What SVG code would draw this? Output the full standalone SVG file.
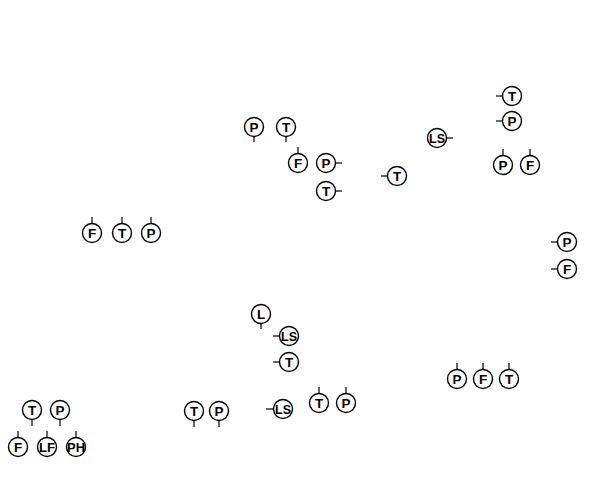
<svg xmlns="http://www.w3.org/2000/svg" width="596" height="495" viewBox="0 0 596 495">
<style>
circle{fill:#fff;stroke:#000;stroke-width:1.4}
line{stroke:#000;stroke-width:1.2}
text{font-family:"Liberation Sans",Arial,sans-serif;font-size:13.5px;font-weight:bold;text-anchor:middle;fill:#000}
text.w{font-size:12.5px}
</style>
<rect width="596" height="495" fill="#fff"/>
<g id="connectors"></g>
<g id="n1"><line x1="254" y1="136.5" x2="254" y2="142"/><circle cx="254" cy="127" r="9.5"/><text x="254" y="131.8">P</text></g>
<g id="n2"><line x1="286" y1="136.5" x2="286" y2="142"/><circle cx="286" cy="127" r="9.5"/><text x="286" y="131.8">T</text></g>
<g id="n3"><line x1="298" y1="147" x2="298" y2="153.5"/><circle cx="298" cy="163" r="9.5"/><text x="298" y="167.8">F</text></g>
<g id="n4"><line x1="335.5" y1="163" x2="342" y2="163"/><circle cx="326" cy="163" r="9.5"/><text x="326" y="167.8">P</text></g>
<g id="n5"><line x1="335.5" y1="191" x2="342" y2="191"/><circle cx="326" cy="191" r="9.5"/><text x="326" y="195.8">T</text></g>
<g id="n6"><line x1="381" y1="176" x2="387.5" y2="176"/><circle cx="397" cy="176" r="9.5"/><text x="397" y="180.8">T</text></g>
<g id="n7"><line x1="446.5" y1="138" x2="453" y2="138"/><circle cx="437" cy="138" r="9.5"/><text class="w" x="437" y="142.5" textLength="16" lengthAdjust="spacingAndGlyphs">LS</text></g>
<g id="n8"><line x1="496" y1="96" x2="502.5" y2="96"/><circle cx="512" cy="96" r="9.5"/><text x="512" y="100.8">T</text></g>
<g id="n9"><line x1="496" y1="121" x2="502.5" y2="121"/><circle cx="512" cy="121" r="9.5"/><text x="512" y="125.8">P</text></g>
<g id="n10"><line x1="503" y1="149" x2="503" y2="155.5"/><circle cx="503" cy="165" r="9.5"/><text x="503" y="169.8">P</text></g>
<g id="n11"><line x1="530" y1="149" x2="530" y2="155.5"/><circle cx="530" cy="165" r="9.5"/><text x="530" y="169.8">F</text></g>
<g id="n12"><line x1="92" y1="217" x2="92" y2="223.5"/><circle cx="92" cy="233" r="9.5"/><text x="92" y="237.8">F</text></g>
<g id="n13"><line x1="122" y1="217" x2="122" y2="223.5"/><circle cx="122" cy="233" r="9.5"/><text x="122" y="237.8">T</text></g>
<g id="n14"><line x1="151" y1="217" x2="151" y2="223.5"/><circle cx="151" cy="233" r="9.5"/><text x="151" y="237.8">P</text></g>
<g id="n15"><line x1="551" y1="242" x2="557.5" y2="242"/><circle cx="567" cy="242" r="9.5"/><text x="567" y="246.8">P</text></g>
<g id="n16"><line x1="551" y1="269" x2="557.5" y2="269"/><circle cx="567" cy="269" r="9.5"/><text x="567" y="273.8">F</text></g>
<g id="n17"><line x1="261" y1="323.5" x2="261" y2="329"/><circle cx="261" cy="314" r="9.5"/><text x="261" y="318.8">L</text></g>
<g id="n18"><line x1="273" y1="336" x2="279.5" y2="336"/><circle cx="289" cy="336" r="9.5"/><text class="w" x="289" y="340.5" textLength="16" lengthAdjust="spacingAndGlyphs">LS</text></g>
<g id="n19"><line x1="273" y1="362" x2="279.5" y2="362"/><circle cx="289" cy="362" r="9.5"/><text x="289" y="366.8">T</text></g>
<g id="n20"><line x1="266" y1="409" x2="273.5" y2="409"/><circle cx="283" cy="409" r="9.5"/><text class="w" x="283" y="413.5" textLength="16" lengthAdjust="spacingAndGlyphs">LS</text></g>
<g id="n21"><line x1="319" y1="387" x2="319" y2="393.5"/><circle cx="319" cy="403" r="9.5"/><text x="319" y="407.8">T</text></g>
<g id="n22"><line x1="346" y1="387" x2="346" y2="393.5"/><circle cx="346" cy="403" r="9.5"/><text x="346" y="407.8">P</text></g>
<g id="n23"><line x1="457" y1="363" x2="457" y2="369.5"/><circle cx="457" cy="379" r="9.5"/><text x="457" y="383.8">P</text></g>
<g id="n24"><line x1="483" y1="363" x2="483" y2="369.5"/><circle cx="483" cy="379" r="9.5"/><text x="483" y="383.8">F</text></g>
<g id="n25"><line x1="509" y1="363" x2="509" y2="369.5"/><circle cx="509" cy="379" r="9.5"/><text x="509" y="383.8">T</text></g>
<g id="n26"><line x1="32" y1="419.5" x2="32" y2="426"/><circle cx="32" cy="410" r="9.5"/><text x="32" y="414.8">T</text></g>
<g id="n27"><line x1="60" y1="419.5" x2="60" y2="426"/><circle cx="60" cy="410" r="9.5"/><text x="60" y="414.8">P</text></g>
<g id="n28"><line x1="18" y1="431" x2="18" y2="437.5"/><circle cx="18" cy="447" r="9.5"/><text x="18" y="451.8">F</text></g>
<g id="n29"><line x1="47" y1="431" x2="47" y2="437.5"/><circle cx="47" cy="447" r="9.5"/><text class="w" x="47" y="451.5" textLength="16" lengthAdjust="spacingAndGlyphs">LF</text></g>
<g id="n30"><line x1="76" y1="431" x2="76" y2="437.5"/><circle cx="76" cy="447" r="9.5"/><text class="w" x="76" y="451.5" textLength="18" lengthAdjust="spacingAndGlyphs">PH</text></g>
<g id="n31"><line x1="194" y1="420.5" x2="194" y2="427"/><circle cx="194" cy="411" r="9.5"/><text x="194" y="415.8">T</text></g>
<g id="n32"><line x1="219" y1="420.5" x2="219" y2="427"/><circle cx="219" cy="411" r="9.5"/><text x="219" y="415.8">P</text></g>
</svg>
